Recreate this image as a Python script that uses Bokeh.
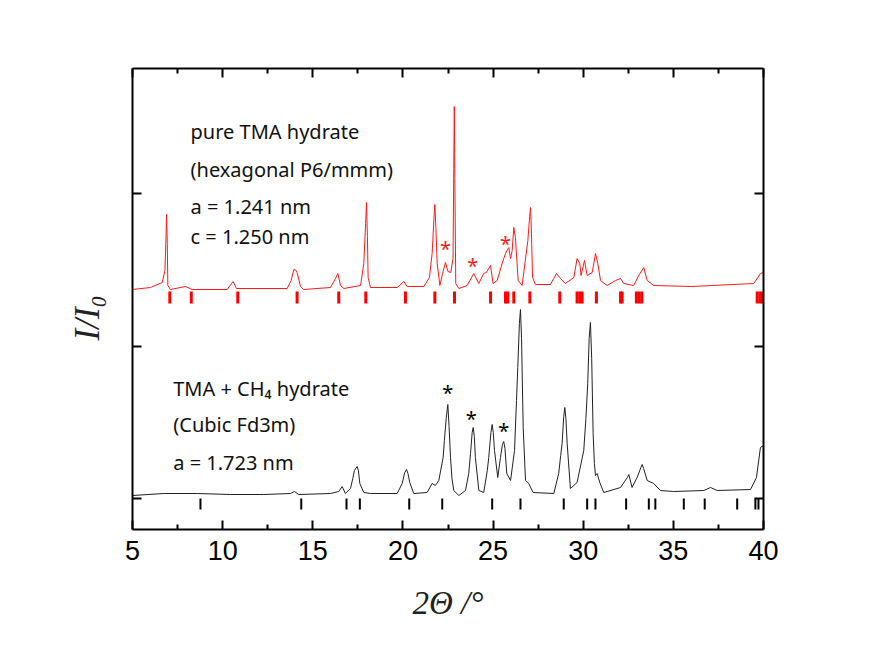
from bokeh.plotting import figure
from bokeh.models import Range1d, LinearAxis, FixedTicker, Label, Title
from bokeh.core.properties import value
from bokeh.embed import file_html
from bokeh.resources import INLINE

# ---- data (intensity in arbitrary units) ----
hex_2theta = [5.0, 6.0, 6.65, 6.8, 6.86, 6.89, 6.93, 6.96, 7.1, 7.94, 8.31, 10.25, 10.58, 10.77,
              13.58, 13.80, 13.95, 14.08, 14.13, 14.32, 14.5, 15.98, 16.26, 16.39, 16.54,
              16.72, 17.65, 17.83, 17.93, 17.98, 18.03, 18.07, 18.2, 19.68, 20.05, 20.24, 21.16, 21.47,
              21.62, 21.72, 21.77, 21.83, 21.9, 22.05, 22.2, 22.36, 22.5, 22.65, 22.78, 22.82, 22.85, 22.88, 22.93,
              23.1, 23.56, 23.93, 24.21, 24.48, 24.63, 24.86, 25.0, 25.23, 25.5, 25.69,
              25.87, 25.97, 26.06, 26.15, 26.24, 26.39, 26.61, 26.93, 27.03, 27.08, 27.13, 27.19, 27.35,
              28.18, 28.52, 28.74, 29.01, 29.48, 29.66, 29.81, 29.88, 30.07, 30.22, 30.5,
              30.68, 30.81, 30.96, 31.33, 31.79, 32.07, 32.25, 32.8, 33.08, 33.36, 33.55,
              33.91, 36.0, 39.46, 39.83, 40.0]
hex_intensity = [209, 211, 216, 228, 262, 284, 255, 213, 209, 212, 209, 209, 217, 210,
                 210, 218, 229, 228, 226, 212, 209, 211, 220, 225, 213,
                 210, 213, 235, 275, 296, 262, 221, 211, 211, 217, 212, 212, 221,
                 245, 280, 294, 270, 235, 213, 225, 236, 227, 226, 240, 330, 392, 320, 215,
                 210, 213, 225, 215, 225, 226, 233, 215, 218, 235, 245,
                 251, 240, 248, 271, 261, 218, 213, 258, 282, 291, 265, 221, 214,
                 214, 225, 220, 215, 221, 240, 235, 223, 238, 223, 226,
                 245, 235, 218, 213, 218, 220, 215, 213, 223, 231, 218,
                 213, 212, 215, 225, 226]

cub_2theta = [5.0, 6.74, 8.59, 10.44, 12.28, 13.76, 13.98, 14.22, 15.98, 16.44, 16.63,
              16.81, 17.09, 17.22, 17.31, 17.46, 17.53, 17.61, 17.83, 18.2, 19.68, 19.96, 20.1, 20.2, 20.28, 20.38,
              20.6, 21.34, 21.62, 21.8, 21.99, 22.23, 22.3, 22.4, 22.49, 22.56, 22.64, 22.72, 22.82, 23.1,
              23.47, 23.65, 23.75, 23.84, 23.9, 23.96, 24.02, 24.21, 24.48, 24.68, 24.76, 24.88, 24.95, 25.01, 25.08, 25.26, 25.41,
              25.52, 25.59, 25.66, 25.76, 25.97, 26.19, 26.3, 26.37, 26.46, 26.52, 26.58, 26.67, 26.8, 26.98, 27.22, 28.37,
              28.64, 28.75, 28.83, 28.92, 28.98, 29.04, 29.11, 29.29, 29.66, 30.03, 30.15, 30.25, 30.33, 30.4, 30.47, 30.55, 30.62, 30.68,
              30.77, 30.92, 31.14, 32.07, 32.45, 32.53, 32.71, 32.99, 33.2, 33.27, 33.35, 33.55, 33.91, 34.28,
              35.02, 36.69, 37.06, 37.43, 39.28, 39.61, 39.83, 40.0]
cub_intensity = [3, 5, 5, 4, 4, 5, 7, 4, 5, 7, 12,
                 5, 10, 20, 28, 32, 28, 15, 6, 5, 5, 15, 26, 29, 25, 16,
                 5, 6, 15, 13, 18, 41, 58, 80, 94, 72, 41, 20, 8, 3,
                 8, 25, 45, 66, 71, 62, 41, 8, 6, 28, 41, 66, 74, 66, 48, 21, 41,
                 54, 57, 50, 25, 18, 48, 98, 131, 175, 189, 160, 71, 18, 15, 6, 5,
                 25, 43, 55, 82, 91, 80, 55, 10, 16, 48, 80, 115, 160, 176, 140, 65, 35, 23,
                 25, 16, 6, 11, 21, 24, 11, 21, 31, 34, 30, 18, 15, 8,
                 7, 8, 11, 8, 9, 21, 51, 53]

hex_reflections = [7.07, 8.26, 10.84, 14.13, 16.44, 17.94, 20.14, 21.77, 22.86, 24.86,
                   25.69, 25.82, 26.15, 27.04, 28.70, 29.66, 29.81, 29.94, 30.73, 32.07,
                   32.16, 32.95, 33.10, 33.25, 39.65, 39.80, 39.92]
cub_reflections = [8.77, 14.36, 16.87, 17.61, 20.35, 22.18, 24.95, 26.52, 28.92, 30.22,
                   30.68, 32.38, 33.64, 34.0, 35.58, 36.74, 38.54, 39.55, 39.72]

hex_star_2theta = [22.36, 23.87, 25.69]
hex_star_int = [251, 234, 256]
cub_star_2theta = [22.49, 23.79, 25.59]
cub_star_int = [108, 82, 70]

x_major = [5, 10, 15, 20, 25, 30, 35, 40]
x_minor = [7.5, 12.5, 17.5, 22.5, 27.5, 32.5, 37.5]
y_major = [0, 152.5, 305]

RED = "#ff1a1a"
BLACK = "#000000"

p = figure(width=870, height=631, x_range=Range1d(5, 40), y_range=Range1d(-31, 430),
           output_backend="svg", toolbar_location=None,
           min_border_left=132, min_border_right=107, min_border_top=68, min_border_bottom=102)
p.outline_line_color = None
p.grid.visible = False
p.background_fill_color = "white"
p.border_fill_color = "white"

# traces
p.line(hex_2theta, hex_intensity, line_color=RED, line_width=1)
p.line(cub_2theta, cub_intensity, line_color="#222222", line_width=1)

# reflection ticks
p.segment(x0=hex_reflections, y0=[195] * len(hex_reflections), x1=hex_reflections,
          y1=[207] * len(hex_reflections), line_color="#ff0000", line_width=3)
p.segment(x0=cub_reflections, y0=[-11] * len(cub_reflections), x1=cub_reflections,
          y1=[0] * len(cub_reflections), line_color=BLACK, line_width=2)

# asterisks
p.text(x=hex_star_2theta, y=hex_star_int, text=["*"] * 3, text_color=RED,
       text_font=value("Noto Sans"), text_font_size="20px",
       text_align="center", text_baseline="middle", y_offset=1)
p.text(x=cub_star_2theta, y=cub_star_int, text=["*"] * 3, text_color=BLACK,
       text_font=value("Noto Sans"), text_font_size="20px",
       text_align="center", text_baseline="middle", y_offset=2)

# annotations
FONT = "Noto Sans"
FS = "20px"
def lab(x, y, t):
    p.add_layout(Label(x=x, y=y, text=t, text_font=FONT, text_font_size=FS,
                       text_color="#111111", text_baseline="alphabetic"))

lab(8.22, 367, "pure TMA hydrate")
lab(8.22, 329, "(hexagonal P6/mmm)")
lab(8.22, 292, "a = 1.241 nm")
lab(8.22, 262, "c = 1.250 nm")
lab(7.26, 110, "TMA + CH\u2084 hydrate")
lab(7.26, 74, "(Cubic Fd3m)")
lab(7.26, 36, "a = 1.723 nm")

# axes styling
def style_axis(ax, ticks, minor, labels):
    ax.ticker = FixedTicker(ticks=ticks, minor_ticks=minor)
    ax.axis_line_width = 2
    ax.axis_line_color = BLACK
    ax.major_tick_in = 9
    ax.major_tick_out = 0
    ax.minor_tick_in = 5
    ax.minor_tick_out = 0
    ax.major_tick_line_width = 2
    ax.minor_tick_line_width = 2
    if not labels:
        ax.major_label_text_font_size = "0px"
        ax.major_label_text_color = None

xa = p.xaxis[0]
style_axis(xa, x_major, x_minor, True)
xa.major_label_text_font = "Liberation Sans"
xa.major_label_text_font_size = "27px"
xa.major_label_text_color = BLACK
xa.major_label_standoff = 11
xa.axis_label = "2\u0398 /\u00b0"
xa.axis_label_text_font = "Liberation Serif"
xa.axis_label_text_font_style = "italic"
xa.axis_label_text_font_size = "33px"
xa.axis_label_text_color = "#222222"
xa.axis_label_standoff = 22

ya = p.yaxis[0]
style_axis(ya, y_major, [], False)

# y-axis title as a side title (rotated automatically on the left)
ytitle = Title(text="I/I\u2080", align="left", offset=189, standoff=52,
               text_font="Liberation Serif", text_font_style="italic",
               text_font_size="35px", text_color="#222222")
p.add_layout(ytitle, "left")

top = LinearAxis()
style_axis(top, x_major, x_minor, False)
p.add_layout(top, "above")
right = LinearAxis()
style_axis(right, y_major, [], False)
p.add_layout(right, "right")

open("out.html", "w").write(file_html(p, INLINE))
